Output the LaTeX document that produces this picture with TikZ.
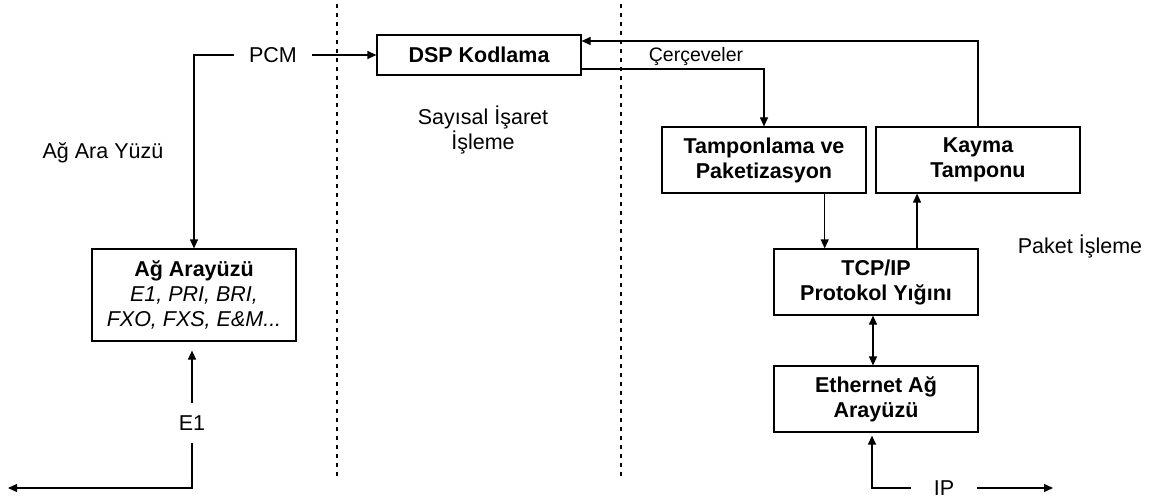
\documentclass[tikz,border=0pt]{standalone}
\usepackage{fontspec}
\setmainfont{Liberation Sans}
\usetikzlibrary{arrows.meta,calc}
\begin{document}
\begin{tikzpicture}[x=1pt,y=-1pt,
  every node/.style={font=\fontsize{21.5}{25}\selectfont, align=center},
  box/.style={draw, line width=1.2pt, minimum width=204pt, inner sep=0pt, font=\fontsize{21.5}{25}\selectfont\bfseries},
  arr/.style={line width=1.2pt, -{Triangle[length=9pt,width=8pt]}},
  darr/.style={line width=1.2pt, {Triangle[length=9pt,width=8pt]}-{Triangle[length=9pt,width=8pt]}},
  sep/.style={line width=1.2pt, dash pattern=on 4pt off 5pt}
]
\useasboundingbox (0,0) rectangle (1149,500);
% separators
\draw[sep] (337,4) -- (337,479);
\draw[sep] (621,4) -- (621,479);
% boxes
\node[box, minimum height=40pt] (dsp) at (479,55) {DSP Kodlama};
\node[box, minimum height=92pt] (ag) at (194,295) {Ağ Arayüzü\\\normalfont\itshape E1, PRI, BRI,\\\normalfont\itshape FXO, FXS, E\&M...};
\node[box, minimum height=66pt] (tamp) at (764,160) {Tamponlama ve\\Paketizasyon};
\node[box, minimum height=66pt] (kay) at (978,160) {Kayma\\Tamponu};
\node[box, minimum height=66pt] (tcp) at (876,282) {TCP/IP\\Protokol Yığını};
\node[box, minimum height=66pt] (eth) at (876,399) {Ethernet Ağ\\Arayüzü};
% free labels
\node (agl) at (103,153) {Ağ Ara Yüzü};
\node[font=\fontsize{21.5}{20}\selectfont] (sayl) at (483,130) {Sayısal İşaret\\İşleme};
\node (pakl) at (1080,246) {Paket İşleme};
\node[font=\fontsize{19.5}{20}\selectfont] (cer) at (696,57) {Çerçeveler};
% PCM
\node[inner xsep=15pt, inner ysep=4pt] (pcm) at (273,55) {PCM};
\draw[arr] (pcm.west) -| (ag.north);
\draw[arr] (pcm.east) -- (dsp.west);
% E1
\node[inner xsep=4pt, inner ysep=12pt] (e1) at (192,423) {E1};
\coordinate (e1end) at (8,488);
\draw[arr, shorten >=9pt] (e1.north) -- (e1.north |- ag.south);
\draw[arr] (e1.south) |- (e1end);
% DSP to Tamponlama
\draw[arr] ([yshift=-14pt]dsp.east) -| (tamp.north);
% Kayma feedback
\draw[arr] (kay.north) |- ([yshift=14pt]dsp.east);
% Tamponlama -> TCP, TCP -> Kayma
\coordinate (tcpin) at ($(tcp.north west)!0.25!(tcp.north east)$);
\coordinate (tcpout) at ($(tcp.north west)!0.7!(tcp.north east)$);
\draw[arr] (tcpin |- tamp.south) -- (tcpin);
\draw[arr] (tcpout) -- (tcpout |- kay.south);
% TCP <-> Ethernet
\draw[darr] ([xshift=-3pt]tcp.south) -- ([xshift=-3pt]eth.north);
% IP
\node[inner xsep=23pt, inner ysep=4pt] (ip) at (944,488) {IP};
\coordinate (ipend) at (1053,488);
\draw[arr, shorten >=3pt] (ip.west) -| ([xshift=-4pt]eth.south);
\draw[arr] (ip.east) -- (ipend);
\end{tikzpicture}
\end{document}
